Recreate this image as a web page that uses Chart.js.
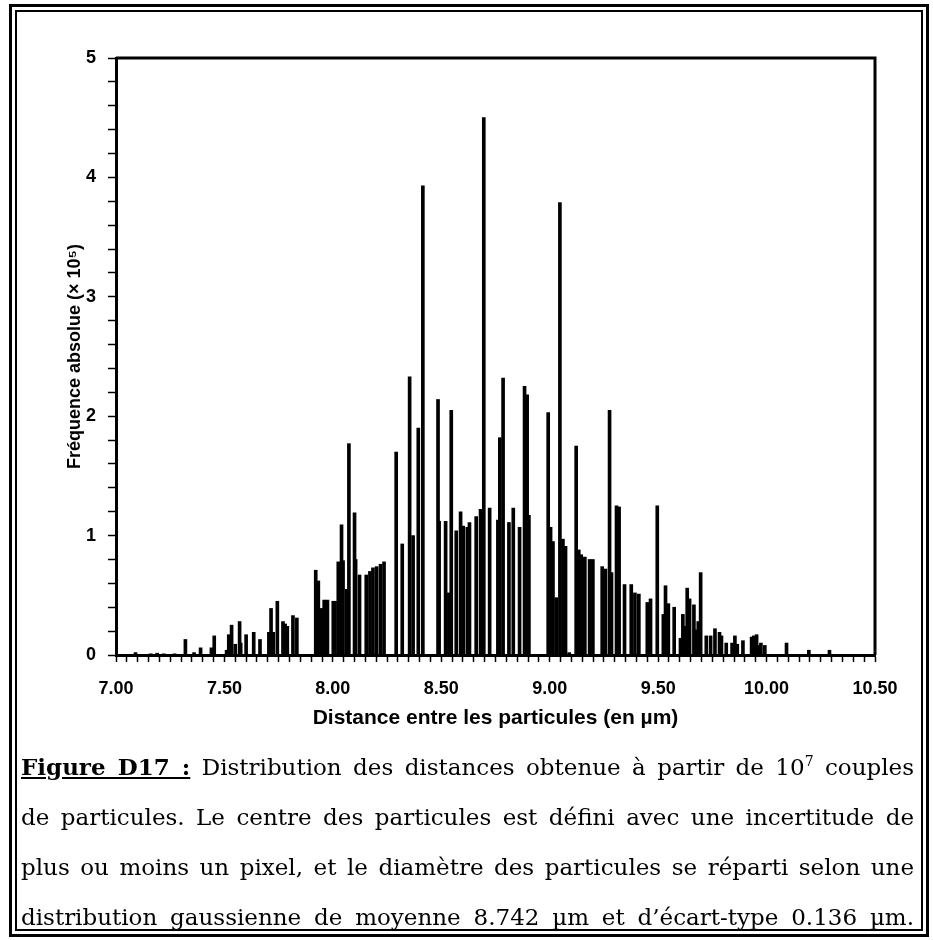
<!DOCTYPE html>
<html>
<head>
<meta charset="utf-8">
<script src="https://cdn.jsdelivr.net/npm/chart.js@4.4.1/dist/chart.umd.min.js"></script>
<style>
  html, body { margin: 0; padding: 0; background: #fff; }
  body { width: 933px; height: 940px; position: relative; overflow: hidden; }
  #chart { position: absolute; left: 0; top: 0; }
  .frameOuter { position: absolute; left: 9px; top: 4px; width: 914px; height: 927px; border: 3px solid #000; }
  .frameInner { position: absolute; left: 15px; top: 10px; width: 904px; height: 917px; border: 2px solid #000; }
  #caption { position: absolute; left: 21px; top: 742px; width: 893px;
             font-family: 'DejaVu Serif', serif; font-size: 23px; color: #000; }
  #caption div { height: 50px; line-height: 50px; text-align: justify; text-align-last: justify; white-space: nowrap; }
  #caption b { text-decoration: underline; }
  sup { font-size: 14px; line-height: 0; vertical-align: 9px; }
</style>
</head>
<body>
<div class="frameOuter"></div>
<div class="frameInner"></div>
<canvas id="chart" width="933" height="745"></canvas>
<div id="caption">
  <div><b>Figure D17 :</b> Distribution des distances obtenue à partir de 10<sup>7</sup> couples</div>
  <div>de particules. Le centre des particules est défini avec une incertitude de</div>
  <div>plus ou moins un pixel, et le diamètre des particules se réparti selon une</div>
  <div>distribution gaussienne de moyenne 8.742 µm et d’écart-type 0.136 µm.</div>
</div>
<script>
// valeurs (distance en µm, fréquence en 10^5)
const distances = [
  7.09, 7.16, 7.19, 7.22, 7.27, 7.32, 7.36, 7.39, 7.44, 7.453,
  7.51, 7.52, 7.533, 7.55, 7.57, 7.575, 7.60, 7.635, 7.664, 7.705,
  7.715, 7.725, 7.744, 7.77, 7.78, 7.79, 7.816, 7.834,
  7.921, 7.933, 7.948, 7.96, 7.975, 8.002, 8.01, 8.025, 8.04, 8.047,
  8.064, 8.074, 8.10, 8.105, 8.123, 8.154, 8.171, 8.185, 8.202, 8.22,
  8.236, 8.292, 8.32, 8.354, 8.37, 8.394, 8.415,
  8.485, 8.49, 8.52, 8.535, 8.546, 8.569, 8.589, 8.601, 8.62, 8.63,
  8.661, 8.681, 8.696, 8.723, 8.761, 8.77, 8.785, 8.812, 8.832, 8.861,
  8.884, 8.896, 8.904, 8.993,
  9.004, 9.015, 9.03, 9.047, 9.061, 9.073, 9.09, 9.122, 9.134, 9.145,
  9.162, 9.184, 9.199, 9.242, 9.257, 9.276, 9.285, 9.308, 9.32, 9.345,
  9.376, 9.393, 9.411, 9.45, 9.465, 9.496, 9.524, 9.534, 9.547,
  9.574, 9.603, 9.614, 9.62, 9.634, 9.645, 9.665, 9.675, 9.685, 9.696,
  9.722, 9.742, 9.762, 9.783, 9.792, 9.814, 9.841, 9.854, 9.865, 9.891,
  9.931, 9.941, 9.954, 9.963, 9.974, 9.992, 10.092, 10.195, 10.29
];
const frequencies = [
  0.02, 0.01, 0.015, 0.01, 0.01, 0.13, 0.02, 0.06, 0.06, 0.16,
  0.04, 0.17, 0.25, 0.09, 0.28, 0.10, 0.17, 0.19, 0.13, 0.19,
  0.39, 0.19, 0.45, 0.28, 0.26, 0.24, 0.33, 0.31,
  0.71, 0.62, 0.39, 0.46, 0.46, 0.45, 0.45, 0.78, 1.09, 0.79,
  0.55, 1.77, 1.19, 0.80, 0.67, 0.67, 0.70, 0.73, 0.74, 0.76,
  0.78, 1.70, 0.93, 2.33, 1.00, 1.90, 3.93,
  2.14, 1.12, 1.12, 0.52, 2.05, 1.04, 1.20, 1.08, 1.07, 1.11,
  1.16, 1.22, 4.50, 1.23, 1.13, 1.82, 2.32, 1.11, 1.23, 1.07,
  2.25, 2.18, 1.17, 2.03,
  1.07, 0.95, 0.48, 3.79, 0.97, 0.91, 0.02, 1.75, 0.88, 0.84,
  0.82, 0.80, 0.80, 0.74, 0.72, 2.05, 0.69, 1.25, 1.24, 0.59,
  0.59, 0.52, 0.51, 0.44, 0.47, 1.25, 0.34, 0.58, 0.43,
  0.40, 0.14, 0.34, 0.24, 0.56, 0.47, 0.42, 0.21, 0.28, 0.69,
  0.16, 0.16, 0.22, 0.19, 0.16, 0.10, 0.10, 0.16, 0.09, 0.12,
  0.15, 0.16, 0.17, 0.08, 0.10, 0.08, 0.10, 0.04, 0.04
];
const xTickLabels = ['7.00', '7.50', '8.00', '8.50', '9.00', '9.50', '10.00', '10.50'];
const yTickLabels = ['0', '1', '2', '3', '4', '5'];

const points = distances.map((d, i) => ({ x: d, y: frequencies[i] }));

// cadre haut + droite du graphe
const boxPlugin = {
  id: 'boxPlugin',
  afterDraw(chart) {
    const { ctx, chartArea: a } = chart;
    ctx.save();
    ctx.strokeStyle = '#000';
    ctx.lineWidth = 3;
    ctx.beginPath();
    ctx.moveTo(a.left, a.top);
    ctx.lineTo(a.right, a.top);
    ctx.lineTo(a.right, a.bottom);
    ctx.stroke();
    ctx.restore();
  }
};

function findLabel(list, value) {
  const hit = list.find(l => Math.abs(parseFloat(l) - value) < 1e-6);
  return hit === undefined ? '' : hit;
}

const ctx = document.getElementById('chart').getContext('2d');
new Chart(ctx, {
  type: 'bar',
  data: {
    datasets: [{
      data: points,
      backgroundColor: '#000',
      borderWidth: 0,
      barThickness: 3
    }]
  },
  plugins: [boxPlugin],
  options: {
    responsive: false,
    animation: false,
    layout: { padding: { top: 58, right: 58, left: 0, bottom: 0 } },
    plugins: { legend: { display: false }, tooltip: { enabled: false } },
    scales: {
      x: {
        type: 'linear',
        min: 7, max: 10.5,
        offset: false,
        afterFit(scale) { scale.height = 90; },
        grid: { offset: false, drawOnChartArea: false, drawTicks: true, tickLength: 7, tickColor: '#000', tickWidth: 1.5 },
        border: { display: true, color: '#000', width: 3 },
        ticks: {
          stepSize: 0.05, maxTicksLimit: 100, autoSkip: false, maxRotation: 0,
          padding: 16, color: '#000',
          font: { family: "'Liberation Sans', Arial, sans-serif", size: 18, weight: 'bold' },
          callback: (v) => findLabel(xTickLabels, v)
        },
        title: {
          display: true, text: 'Distance entre les particules (en µm)', color: '#000',
          font: { family: "'Liberation Sans', Arial, sans-serif", size: 21, weight: 'bold' },
          padding: { top: 0, bottom: 14 }
        }
      },
      y: {
        min: 0, max: 5,
        afterFit(scale) { scale.width = 116; },
        grid: { drawOnChartArea: false, drawTicks: true, tickLength: 8, tickColor: '#000', tickWidth: 1.5 },
        border: { display: true, color: '#000', width: 3 },
        ticks: {
          stepSize: 0.2, maxTicksLimit: 100, autoSkip: false,
          padding: 12, color: '#000',
          font: { family: "'Liberation Sans', Arial, sans-serif", size: 18, weight: 'bold' },
          callback: (v) => findLabel(yTickLabels, v)
        },
        title: {
          display: true, text: 'Fréquence absolue (× 10⁵)', color: '#000',
          font: { family: "'Liberation Sans', Arial, sans-serif", size: 18, weight: 'bold' },
          padding: { top: 64, bottom: 0 }
        }
      }
    }
  }
});
</script>
</body>
</html>
